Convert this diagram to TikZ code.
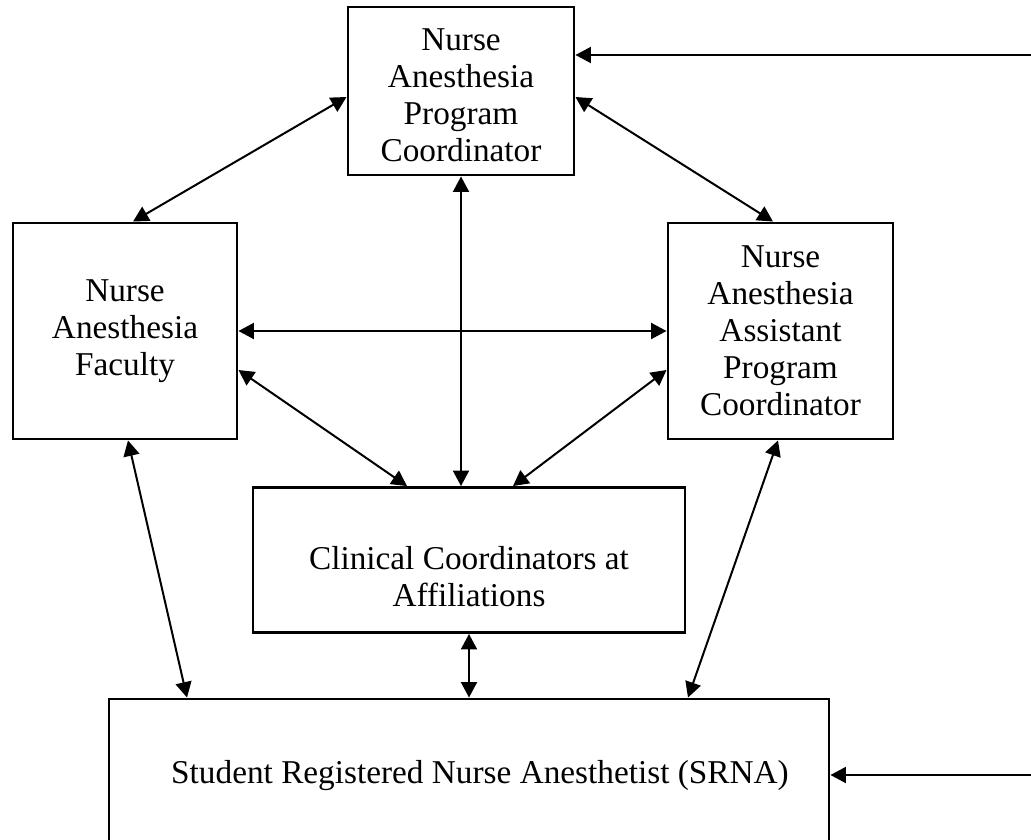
\documentclass[tikz,border=0pt]{standalone}
\usepackage{fontspec}
\setmainfont{Liberation Serif}
\usepackage{tikz}
\usetikzlibrary{arrows.meta, calc}
\newcommand{\px}{0.0132cm}

\begin{document}
\begin{tikzpicture}[
    x=0.0132cm, y=-0.0132cm,
    box/.style={rectangle, draw, line width=1.1pt, align=center, inner sep=0pt, font=\fontsize{12.5}{13.9}\selectfont},
    boxtext/.style={align=center, inner sep=0pt, font=\fontsize{12.5}{13.9}\selectfont},
    link/.style={<->, >={Triangle[length=5.8pt, width=6pt]}, line width=0.75pt},
    feed/.style={->, >={Triangle[length=5.8pt, width=6pt]}, line width=0.75pt}
]
    \clip (0,0) rectangle (1031,840);

    % Boxes
    \node[box, minimum width=226*\px, minimum height=168*\px] (npc) at (461,91) {};
    \node[boxtext] (npctext) at ($(npc.center)+(0,4)$) {Nurse\\Anesthesia\\Program\\Coordinator};
    \node[box, minimum width=224*\px, minimum height=216*\px] (fac) at (125,331) {Nurse\\Anesthesia\\Faculty};
    \node[box, minimum width=225*\px, minimum height=216*\px] (apc) at (780.5,331) {Nurse\\Anesthesia\\Assistant\\Program\\Coordinator};
    \node[box, minimum width=432*\px, minimum height=145*\px] (cca) at (469,560) {};
    \node[boxtext] (ccatext) at ($(cca.center)+(0,17)$) {Clinical Coordinators at\\Affiliations};
    \node[box, minimum width=720*\px, minimum height=150*\px] (srna) at (469,774) {};
    \node[boxtext] (srnatext) at ($(srna.center)+(11,2)$) {Student Registered Nurse Anesthetist (SRNA)};

    % Inputs from the right
    \coordinate (in1) at (1031,55);
    \coordinate (in2) at (1031,775);
    \draw[feed] (in1) -- (npc.east |- in1);
    \draw[feed] (in2) -- (srna.east |- in2);

    % Edges
    \draw[link] ($(npc.west)+(0,6)$) -- ($(fac.north)+(8,0)$);
    \draw[link] ($(npc.east)+(0,6)$) -- ($(apc.north)+(-7.5,0)$);
    \draw[link] (npc.south) -- (npc.south |- cca.north);
    \draw[link] (fac.east) -- (apc.west);
    \draw[link] ($(fac.east)+(0,39)$) -- ($(cca.north)+(-62,0)$);
    \draw[link] ($(apc.west)+(0,39)$) -- ($(cca.north)+(44,0)$);
    \draw[link] ($(fac.south)+(3,0)$) -- ($(srna.north)+(-282,0)$);
    \draw[link] ($(apc.south)+(-2.5,0)$) -- ($(srna.north)+(219,0)$);
    \draw[link] (cca.south) -- (srna.north);
\end{tikzpicture}
\end{document}
